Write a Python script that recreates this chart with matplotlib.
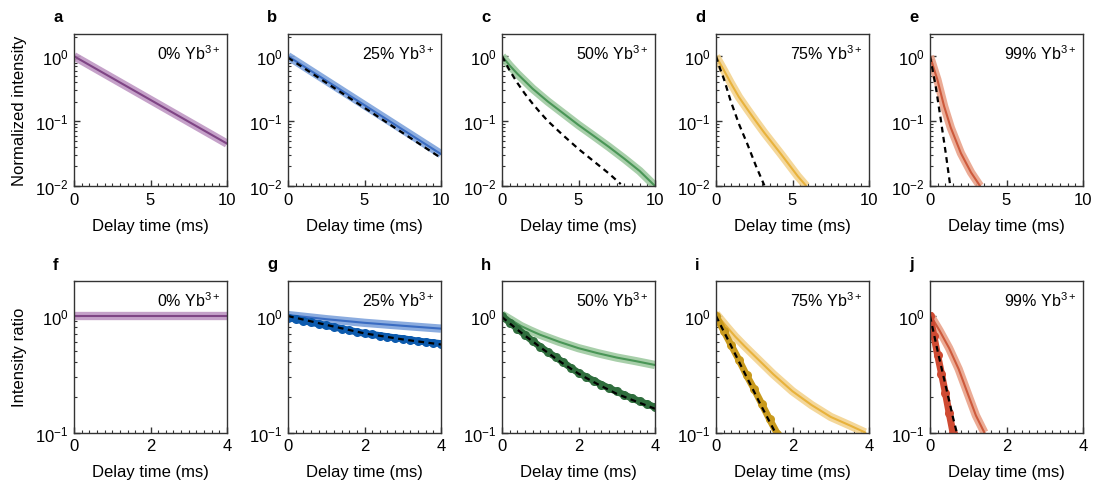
import matplotlib
matplotlib.use("Agg")
import matplotlib.pyplot as plt
from matplotlib.ticker import LogLocator, NullFormatter, MultipleLocator, FixedLocator

plt.rcParams['font.family'] = ['Liberation Sans', 'DejaVu Sans']
plt.rcParams['mathtext.fontset'] = 'custom'
plt.rcParams['mathtext.rm'] = 'Liberation Sans'
plt.rcParams['mathtext.it'] = 'Liberation Sans:italic'
plt.rcParams['mathtext.bf'] = 'Liberation Sans:bold'

# ---------------- data ----------------
labels = ['0% Yb$^{3+}$', '25% Yb$^{3+}$', '50% Yb$^{3+}$', '75% Yb$^{3+}$', '99% Yb$^{3+}$']
top_letters = ['a', 'b', 'c', 'd', 'e']
bot_letters = ['f', 'g', 'h', 'i', 'j']

# top row: measured decay (band + line) and dashed reference
a_t = [0, 10]
a_y = [1.0, 0.045]
b_t = [0, 10]
b_y = [1.0, 0.031]
b_fit_t = [0, 10]
b_fit_y = [0.95, 0.027]
c_t = [0, 0.5, 1, 2, 3, 4, 5, 6, 7, 8, 9, 10]
c_y = [1.0, 0.72, 0.537, 0.316, 0.2, 0.132, 0.087, 0.059, 0.0398, 0.0263, 0.017, 0.01]
c_fit_t = [0, 0.5, 1, 1.5, 2, 2.5, 3, 3.5, 4, 5, 6, 7, 7.76]
c_fit_y = [1.0, 0.603, 0.389, 0.263, 0.186, 0.135, 0.1, 0.0776, 0.0603, 0.0372, 0.024, 0.0155, 0.0107]
d_t = [0, 0.5, 0.96, 1.5, 2.06, 2.6, 3.16, 4.25, 5.35, 5.9]
d_y = [1.0, 0.617, 0.389, 0.234, 0.151, 0.1, 0.066, 0.031, 0.0141, 0.01]
d_fit_t = [0, 0.25, 0.53, 0.96, 1.51, 2.06, 2.61, 3.16]
d_fit_y = [1.0, 0.66, 0.437, 0.204, 0.089, 0.0437, 0.0204, 0.0102]
e_t = [0, 0.25, 0.48, 0.92, 1.36, 2.02, 2.68, 3.27]
e_y = [1.0, 0.646, 0.437, 0.17, 0.079, 0.032, 0.0162, 0.01]
e_fit_t = [0, 0.37, 0.7, 1.03, 1.32]
e_fit_y = [1.0, 0.347, 0.107, 0.032, 0.0102]

# bottom row: light ratio curve, dark ratio data, dashed fit
f_t = [0, 4]
f_y = [1.0, 1.0]
g_t = [0, 1, 2, 3, 4]
g_y = [1.02, 0.94, 0.875, 0.825, 0.78]
g_dat_t = [0, 0.2, 0.4, 0.6, 0.8, 1.0, 1.2, 1.4, 1.6, 1.8, 2.0, 2.2, 2.4, 2.6, 2.8, 3.0, 3.2, 3.4, 3.6, 3.8, 4.0]
g_dat_y = [0.97, 0.94, 0.91, 0.885, 0.855, 0.83, 0.805, 0.78, 0.755, 0.73, 0.71,
           0.695, 0.68, 0.665, 0.65, 0.64, 0.625, 0.61, 0.60, 0.59, 0.58]
g_fit_t = [0, 1, 2, 3, 4]
g_fit_y = [1.0, 0.84, 0.71, 0.63, 0.57]
h_t = [0, 0.25, 0.5, 0.75, 1, 1.5, 2, 2.5, 3, 3.5, 4]
h_y = [1.03, 0.92, 0.82, 0.75, 0.69, 0.6, 0.53, 0.48, 0.44, 0.41, 0.38]
h_dat_t = [0, 0.2, 0.4, 0.6, 0.8, 1.0, 1.2, 1.4, 1.6, 1.8, 2.0, 2.2, 2.4, 2.6, 2.8, 3.0, 3.2, 3.4, 3.6, 3.8, 4.0]
h_dat_y = [1.0, 0.88, 0.78, 0.69, 0.61, 0.545, 0.49, 0.445, 0.40, 0.36, 0.325,
           0.30, 0.278, 0.258, 0.24, 0.225, 0.21, 0.197, 0.185, 0.175, 0.165]
h_fit_t = [0, 0.5, 1, 1.5, 2, 2.5, 3, 3.5, 4]
h_fit_y = [0.98, 0.72, 0.54, 0.41, 0.32, 0.26, 0.215, 0.185, 0.16]
i_t = [0, 0.25, 0.5, 0.75, 1, 1.5, 2, 2.5, 3, 3.5, 3.9]
i_y = [1.047, 0.832, 0.668, 0.55, 0.457, 0.316, 0.226, 0.172, 0.136, 0.115, 0.1]
i_dat_t = [0, 0.2, 0.4, 0.6, 0.8, 1.0, 1.2, 1.4, 1.6, 1.7]
i_dat_y = [1.0, 0.75, 0.56, 0.42, 0.31, 0.235, 0.175, 0.13, 0.098, 0.085]
i_fit_t = [0, 0.4, 0.8, 1.2, 1.55]
i_fit_y = [1.0, 0.55, 0.3, 0.165, 0.1]
j_t = [0, 0.25, 0.5, 0.75, 1.0, 1.2, 1.42]
j_y = [1.03, 0.75, 0.53, 0.35, 0.21, 0.14, 0.1]
j_dat_t = [0, 0.1, 0.2, 0.3, 0.4, 0.5, 0.6, 0.65]
j_dat_y = [1.0, 0.68, 0.46, 0.32, 0.22, 0.147, 0.1, 0.085]
j_fit_t = [0, 0.2, 0.4, 0.6, 0.7]
j_fit_y = [1.0, 0.5, 0.26, 0.135, 0.1]

band_colors = ['#bf97c3', '#7fa3dc', '#9fcaa1', '#f3d38f', '#e9a28a']
line_colors = ['#7f4585', '#3a6cc2', '#4a9657', '#e8b23c', '#cd5a3c']
dark_colors = ['#7a4a80', '#0d5bae', '#2f6e3d', '#c99a1d', '#cf4a32']

top_curves = [(a_t, a_y, None, None), (b_t, b_y, b_fit_t, b_fit_y),
              (c_t, c_y, c_fit_t, c_fit_y), (d_t, d_y, d_fit_t, d_fit_y),
              (e_t, e_y, e_fit_t, e_fit_y)]
bot_curves = [(f_t, f_y, None, None, None, None),
              (g_t, g_y, g_dat_t, g_dat_y, g_fit_t, g_fit_y),
              (h_t, h_y, h_dat_t, h_dat_y, h_fit_t, h_fit_y),
              (i_t, i_y, i_dat_t, i_dat_y, i_fit_t, i_fit_y),
              (j_t, j_y, j_dat_t, j_dat_y, j_fit_t, j_fit_y)]

# ---------------- figure ----------------
W, H = 1094, 489
fig = plt.figure(figsize=(W / 100, H / 100), dpi=100)
lefts = [74, 288, 502, 716, 930]
aw = 153
spine_c = '#333333'


def style(ax):
    for s in ax.spines.values():
        s.set_color(spine_c)
        s.set_linewidth(1.0)
    ax.tick_params(which='both', direction='in', top=False, right=False,
                   labelsize=12, color=spine_c, pad=4)
    ax.tick_params(which='major', length=4, width=1.0)
    ax.tick_params(which='minor', length=2.5, width=0.8)


for k in range(5):
    # top row
    ax = fig.add_axes([lefts[k] / W, 1 - 187 / H, aw / W, 152 / H])
    t, y, ft, fy = top_curves[k]
    ax.plot(t, y, color=band_colors[k], lw=6, alpha=0.9, solid_capstyle='butt',
            solid_joinstyle='round')
    ax.plot(t, y, color=line_colors[k], lw=1.5)
    if ft is not None:
        ax.plot(ft, fy, color='black', lw=1.6, ls=(0, (2.6, 2.0)))
    ax.set_yscale('log')
    ax.set_ylim(1e-2, 2.2)
    ax.set_xlim(0, 10)
    ax.xaxis.set_major_locator(FixedLocator([0, 5, 10]))
    ax.xaxis.set_minor_locator(MultipleLocator(0.5))
    ax.yaxis.set_major_locator(LogLocator(base=10, numticks=10))
    ax.yaxis.set_minor_locator(LogLocator(base=10, subs=range(2, 10), numticks=20))
    ax.yaxis.set_minor_formatter(NullFormatter())
    style(ax)
    ax.set_xlabel('Delay time (ms)', fontsize=12, labelpad=8)
    if k == 0:
        ax.set_ylabel('Normalized intensity', fontsize=12, labelpad=6)
    ax.text(0.955, 0.88, labels[k], transform=ax.transAxes, ha='right', va='center', fontsize=11.5)
    ax.text(-21 / aw, 1 + 17 / 152, top_letters[k], transform=ax.transAxes,
            ha='left', va='center', fontsize=12, fontweight='bold')

    # bottom row
    ax = fig.add_axes([lefts[k] / W, 1 - 433.5 / H, aw / W, 151.5 / H])
    t, y, dt, dy, ft, fy = bot_curves[k]
    ax.plot(t, y, color=band_colors[k], lw=6, alpha=0.9, solid_capstyle='butt',
            solid_joinstyle='round')
    ax.plot(t, y, color=line_colors[k], lw=1.5)
    if dt is not None:
        ax.plot(dt, dy, color=dark_colors[k], lw=5, marker='o', ms=6.5, mew=0)
    if ft is not None:
        ax.plot(ft, fy, color='black', lw=1.6, ls=(0, (2.6, 2.0)))
    ax.set_yscale('log')
    ax.set_ylim(0.1, 2.0)
    ax.set_xlim(0, 4)
    ax.xaxis.set_major_locator(FixedLocator([0, 2, 4]))
    ax.xaxis.set_minor_locator(MultipleLocator(0.2))
    ax.yaxis.set_major_locator(LogLocator(base=10, numticks=10))
    ax.yaxis.set_minor_locator(LogLocator(base=10, subs=range(2, 10), numticks=20))
    ax.yaxis.set_minor_formatter(NullFormatter())
    style(ax)
    ax.set_xlabel('Delay time (ms)', fontsize=12, labelpad=8)
    if k == 0:
        ax.set_ylabel('Intensity ratio', fontsize=12, labelpad=6)
    ax.text(0.955, 0.88, labels[k], transform=ax.transAxes, ha='right', va='center', fontsize=11.5)
    ax.text(-21 / aw, 1 + 17 / 151.5, bot_letters[k], transform=ax.transAxes,
            ha='left', va='center', fontsize=12, fontweight='bold')

fig.savefig('out.png', dpi=100)
